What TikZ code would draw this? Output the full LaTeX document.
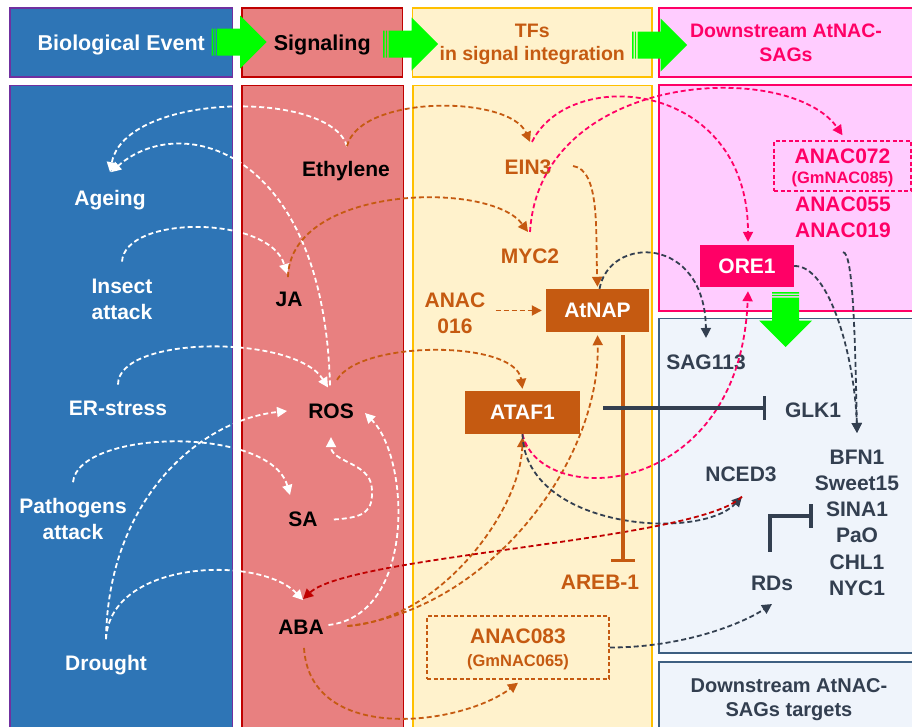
\documentclass[tikz,border=0pt]{standalone}
\usepackage{fontspec}
\setmainfont{Liberation Sans}
\usetikzlibrary{arrows.meta}
\definecolor{evblue}{HTML}{2E75B6}
\definecolor{evpurple}{HTML}{7030A0}
\definecolor{sigred}{HTML}{E88080}
\definecolor{sigborder}{HTML}{C00000}
\definecolor{tfyellow}{HTML}{FFF2CC}
\definecolor{tfborder}{HTML}{FFC000}
\definecolor{sagpink}{HTML}{FFCCFF}
\definecolor{sagborder}{HTML}{FF0066}
\definecolor{tgtblue}{HTML}{EFF4FB}
\definecolor{tgtborder}{HTML}{3E5F81}
\definecolor{tforange}{HTML}{C55A11}
\definecolor{darkslate}{HTML}{333F50}
\definecolor{garrow}{HTML}{00FF00}
\tikzset{
  lbl/.style={inner sep=0pt,text depth=0pt,align=center,font=\fontsize{21}{26}\selectfont\bfseries},
  hdr/.style={lbl,draw,line width=1.5pt,minimum height=69},
  col/.style={line width=1.5pt},
  genebox/.style={lbl,fill=tforange,text=white,minimum height=43},
  dashbox/.style={lbl,draw,line width=1.5pt,dash pattern=on 4pt off 2.5pt},
  flow/.style={line width=1.8pt,dash pattern=on 5pt off 3pt,-{Triangle[length=10pt,width=10pt]}},
  inhib/.style={line width=4.8pt,-{Bar[width=24pt,line width=3.3pt]}},
  gstripe/.pic={
    \fill[garrow] (0,-13.5) rectangle (1.6,13.5) (2.8,-13.5) rectangle (4.2,13.5);
    \fill[garrow] (5.6,-13.5) -- (28.5,-13.5) -- (28.5,-26.5) -- (55,0) -- (28.5,26.5) -- (28.5,13.5) -- (5.6,13.5) -- cycle;
  }
}
\begin{document}
\begin{tikzpicture}[x=1pt,y=-1pt]
\useasboundingbox (0,0) rectangle (912,726);
\node[hdr,fill=evblue,draw=evpurple,text=white,minimum width=222.5,font=\fontsize{21.5}{26}\selectfont\bfseries] (hbio) at (121.25,42.5) {Biological Event};
\node[hdr,fill=sigred,draw=sigborder,minimum width=160.5,font=\fontsize{21.5}{26}\selectfont\bfseries] (hsig) at (322.25,42.5) {Signaling};
\node[hdr,fill=tfyellow,draw=tfborder,text=tforange,minimum width=239.5,font=\fontsize{19.5}{23.5}\selectfont\bfseries] (htf) at (532.25,42.5) {TFs\\in signal integration};
\node[hdr,fill=sagpink,draw=sagborder,text=sagborder,minimum width=254,font=\fontsize{19.5}{23.5}\selectfont\bfseries] (hsag) at (786,42.5) {Downstream AtNAC-\\SAGs};
\draw[col,fill=evblue,draw=evpurple] (10,85.5) rectangle (232.5,740);
\draw[col,fill=sigred,draw=sigborder] (242,85.5) rectangle (403.5,740);
\draw[col,fill=tfyellow,draw=tfborder] (413,85.5) rectangle (652,740);
\draw[col,fill=sagpink,draw=sagborder] (659,85) rectangle (913,311);
\draw[col,fill=tgtblue,draw=tgtborder] (659,318.5) rectangle (913,653);
\draw[col,fill=tgtblue,draw=tgtborder] (659,662) rectangle (913,740);
\pic at (211.5,42) {gstripe};
\pic at (383,44) {gstripe};
\pic at (632,45) {gstripe};
\pic[rotate=-90] at (785.5,292) {gstripe};

\node[lbl,text=white] (ageing) at (110,198) {Ageing};
\node[lbl,text=white] (insect) at (122,299) {Insect\\attack};
\node[lbl,text=white] (erstress) at (118,408) {ER-stress};
\node[lbl,text=white] (pathogens) at (73,519) {Pathogens\\attack};
\node[lbl,text=white] (drought) at (106,663) {Drought};
\node[lbl] (ethylene) at (346,169) {Ethylene};
\node[lbl] (ja) at (289,299.5) {JA};
\node[lbl] (ros) at (331,411) {ROS};
\node[lbl] (sa) at (303,519.5) {SA};
\node[lbl] (aba) at (301,627.5) {ABA};
\node[lbl,text=tforange] (ein3) at (528,167) {EIN3};
\node[lbl,text=tforange] (myc2) at (530,256.5) {MYC2};
\node[lbl,text=tforange] (anac016) at (455,313) {ANAC\\016};
\node[genebox,minimum width=103] (atnap) at (597.5,310.5) {AtNAP};
\node[genebox,minimum width=115] (ataf1) at (522.5,412.5) {ATAF1};
\node[lbl,text=tforange] (areb) at (600,582.5) {AREB-1};
\node[dashbox,draw=tforange,text=tforange,minimum width=182,minimum height=63,font=\fontsize{21}{22.5}\selectfont\bfseries] (anac083) at (518,647.5) {ANAC083\\{\fontsize{16.5}{20}\selectfont (GmNAC065)}};
\node[dashbox,draw=sagborder,text=sagborder,minimum width=137,minimum height=50,font=\fontsize{21}{20.5}\selectfont\bfseries] (anac072) at (842.5,166) {ANAC072\\{\fontsize{16.5}{20}\selectfont (GmNAC085)}};
\node[lbl,text=sagborder] (anac055) at (843,217) {ANAC055\\ANAC019};
\node[lbl,fill=sagborder,text=white,minimum width=94,minimum height=42] (ore1) at (747,266) {ORE1};
\node[lbl,text=darkslate] (sag113) at (706,362.5) {SAG113};
\node[lbl,text=darkslate] (glk1) at (813,409.7) {GLK1};
\node[lbl,text=darkslate,font=\fontsize{21}{26.2}\selectfont\bfseries] (bfn) at (857,522.5) {BFN1\\Sweet15\\SINA1\\PaO\\CHL1\\NYC1};
\node[lbl,text=darkslate] (nced3) at (741,474) {NCED3};
\node[lbl,text=darkslate] (rds) at (772,583) {RDs};
\node[lbl,text=darkslate,font=\fontsize{20}{24}\selectfont\bfseries] (sagtargets) at (789,697.5) {Downstream AtNAC-\\SAGs targets};

\draw[flow,white] ([xshift=1pt,yshift=15pt]ethylene.north) .. controls +(-17,-57) and +(15,-80) .. ([yshift=18pt]ageing.north);
\draw[flow,white] ([xshift=-1pt,yshift=18pt]ros.north) .. controls +(-6,-236) and +(70,-62) .. ([xshift=1pt,yshift=18pt]ageing.north);
\draw[flow,white] ([yshift=17pt]insect.north) .. controls +(3,-47) and +(-17,-59) .. ([xshift=-2pt,yshift=18pt]ja.north);
\draw[flow,white] ([yshift=16pt]erstress.north) .. controls +(0,-50) and +(-33,-53) .. ([xshift=-3pt,yshift=16pt]ros.north);
\draw[flow,white] ([yshift=16pt]drought.north) .. controls +(2,-140) and +(-87,9) .. ([xshift=-21pt]ros.west);
\draw[flow,white] ([yshift=16pt]pathogens.north) .. controls +(5,-53) and +(-20,-70) .. ([xshift=-13pt,yshift=17pt]sa.north);
\draw[flow,white] ([yshift=16pt]drought.north) .. controls +(4,-80) and +(-43,-45) .. ([xshift=2pt,yshift=20pt]aba.north);
\draw[flow,white] ([xshift=16pt]sa.east) .. controls +(30,-2) and +(2,25) .. ++(38,-32) .. controls +(-2,-25) and +(0,25) .. ([yshift=-18.6pt]ros.south);
\draw[flow,white] ([xshift=4.5pt,yshift=2.5pt]aba.east) .. controls +(88,-10) and +(45,45) .. ([xshift=11pt,yshift=-2pt]ros.east);

\draw[flow,tforange] ([xshift=1pt,yshift=15pt]ethylene.north) .. controls +(13,-52) and +(-20,-47) .. ([xshift=2pt,yshift=17.6pt]ein3.north);
\draw[flow,tforange] ([xshift=-1pt,yshift=15pt]ja.north) .. controls +(2,-92) and +(-38,-52) .. ([xshift=-2pt,yshift=17pt]myc2.north);
\draw[flow,tforange] ([xshift=21.5pt,yshift=1pt]ein3.east) .. controls +(27,4) and +(-2,-57) .. ([yshift=2pt]atnap.north);
\draw[flow,tforange,shorten <=10pt,shorten >=4pt] (anac016.east |- atnap.west) -- (atnap.west);
\draw[flow,tforange] ([xshift=6pt,yshift=23.6pt]ros.north) .. controls +(23,-40) and +(-7,-49) .. ([yshift=2pt]ataf1.north);
\draw[flow,tforange] ([xshift=23.5pt,yshift=1.5pt]aba.east) .. controls +(93,-6) and +(-2,73) .. ([yshift=-3pt]ataf1.south);
\draw[flow,tforange] ([xshift=23.5pt,yshift=1.5pt]aba.east) .. controls +(143,-16) and +(3,125) .. ([yshift=-3pt]atnap.south);
\draw[flow,tforange] ([xshift=3pt,yshift=-13pt]aba.south) .. controls +(6,97) and +(-57,43) .. ([yshift=-3pt]anac083.south);

\draw[flow,sagborder] ([xshift=4pt,yshift=17.6pt]ein3.north) .. controls +(38,-77) and +(0,-162) .. ([xshift=1pt,yshift=3pt]ore1.north);
\draw[flow,sagborder] ([yshift=17pt]myc2.north) .. controls +(10,-162) and +(-53,-76) .. ([yshift=5pt]anac072.north);
\draw[flow,sagborder] (ataf1.south) .. controls +(17.5,76) and +(-8,209) .. ([xshift=1pt,yshift=-4pt]ore1.south);

\draw[flow,darkslate] ([xshift=2pt]atnap.north) .. controls +(10,-54) and +(-1,-103) .. ([yshift=17pt]sag113.north);
\draw[flow,darkslate] (ore1.east) .. controls +(36,-1) and +(-2,-73) .. ([yshift=16.6pt]bfn.north);
\draw[flow,darkslate] ([yshift=-14.6pt]anac055.south) .. controls +(10,0) and +(-2,-100) .. ([yshift=16.6pt]bfn.north);
\draw[flow,darkslate] (ataf1.south) .. controls +(2.5,95) and +(-42,45) .. ([xshift=1pt,yshift=-15pt]nced3.south);
\draw[flow,darkslate] (anac083.east) .. controls +(71,0) and +(-32,21) .. ([yshift=-13.6pt]rds.south);
\draw[flow,sigborder] ([xshift=1pt,yshift=-15pt]nced3.south) .. controls +(-42,44) and +(47,-44) .. ([xshift=2pt,yshift=21pt]aba.north);

\draw[inhib,tforange] ([xshift=25.5pt,yshift=-3pt]atnap.south) -- ([xshift=23pt,yshift=13pt]areb.north);
\draw[inhib,darkslate] ([xshift=23pt,yshift=4.5pt]ataf1.east) -- ++(163,0);
\coordinate (rdsbar) at ([xshift=-2pt,yshift=6.5pt]bfn.west);
\draw[inhib,darkslate] ([xshift=-2pt,yshift=23.6pt]rds.north) |- (rdsbar);
\end{tikzpicture}
\end{document}
